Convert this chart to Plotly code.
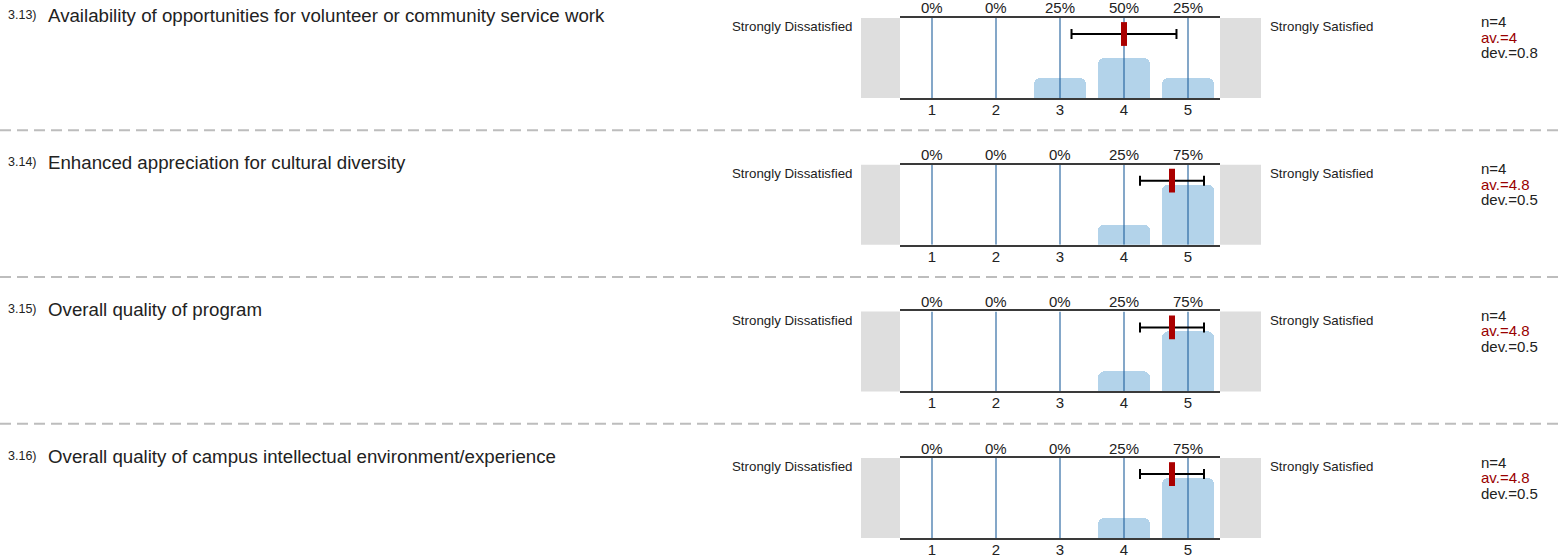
import plotly.graph_objects as go

# ---------------- data ----------------
question_ids = ["3.13)", "3.14)", "3.15)", "3.16)"]
questions = [
    "Availability of opportunities for volunteer or community service work",
    "Enhanced appreciation for cultural diversity",
    "Overall quality of program",
    "Overall quality of campus intellectual environment/experience",
]
scale_points = [1, 2, 3, 4, 5]
pct_3_13 = [0, 0, 25, 50, 25]
pct_3_14 = [0, 0, 0, 25, 75]
pct_3_15 = [0, 0, 0, 25, 75]
pct_3_16 = [0, 0, 0, 25, 75]
percentages = [pct_3_13, pct_3_14, pct_3_15, pct_3_16]
n_resp = [4, 4, 4, 4]
averages = [4.0, 4.75, 4.75, 4.75]
avg_labels = ["4", "4.8", "4.8", "4.8"]
deviations = [0.82, 0.5, 0.5, 0.5]
dev_labels = ["0.8", "0.5", "0.5", "0.5"]
left_label = "Strongly Dissatisfied"
right_label = "Strongly Satisfied"

# ---------------- layout helpers ----------------
W, H = 1559, 557
FONT = "Liberation Sans, Arial, sans-serif"
ROW_STEP = 146.7
PANEL_TOP0 = 18
PANEL_H = 80
PX_L, PX_R = 900, 1220


def fx(px):
    return px / W


def fy(py):
    return 1 - py / H


fig = go.Figure()
shapes = []
annotations = []
layout_axes = {}

for i in range(4):
    top = PANEL_TOP0 + ROW_STEP * i
    bot = top + PANEL_H
    sfx = "" if i == 0 else str(i + 1)
    xa, ya = "x" + sfx, "y" + sfx

    layout_axes["xaxis" + sfx] = dict(
        domain=[fx(PX_L), fx(PX_R)], range=[0.5, 5.5], anchor=ya,
        tickvals=scale_points, ticktext=[str(v) for v in scale_points],
        showline=True, mirror=True, linecolor="#3a3a3a", linewidth=2,
        showgrid=False, zeroline=False, ticks="", ticklabelstandoff=-3,
        tickfont=dict(family=FONT, size=15, color="#222222"),
        fixedrange=True,
    )
    layout_axes["yaxis" + sfx] = dict(
        domain=[fy(bot), fy(top)], range=[0, 100], anchor=xa,
        visible=False, fixedrange=True,
    )

    fig.add_trace(go.Bar(
        x=scale_points, y=percentages[i], width=0.8,
        marker=dict(color="#b3d3ea", cornerradius=6, line=dict(width=0)),
        xaxis=xa, yaxis=ya, hoverinfo="skip", showlegend=False,
    ))
    vx, vy = [], []
    for s in scale_points:
        vx += [s, s, None]
        vy += [0, 100, None]
    fig.add_trace(go.Scatter(
        x=vx, y=vy, mode="lines", line=dict(color="#1f5f9c", width=1.1),
        xaxis=xa, yaxis=ya, hoverinfo="skip", showlegend=False,
    ))
    fig.add_trace(go.Scatter(
        x=[averages[i]], y=[80], mode="markers",
        marker=dict(symbol="line-ns", size=17,
                    line=dict(color="#aa0000", width=6)),
        error_x=dict(type="data", array=[deviations[i]], color="#000000",
                     thickness=2, width=5),
        xaxis=xa, yaxis=ya, hoverinfo="skip", showlegend=False,
    ))

    # grey end boxes
    shapes.append(dict(type="rect", xref="paper", yref="paper",
                       x0=fx(861), x1=fx(PX_L), y0=fy(bot), y1=fy(top),
                       fillcolor="#dedede", line=dict(width=0), layer="below"))
    shapes.append(dict(type="rect", xref="paper", yref="paper",
                       x0=fx(PX_R), x1=fx(1261), y0=fy(bot), y1=fy(top),
                       fillcolor="#dedede", line=dict(width=0), layer="below"))

    # percentage labels above each scale point
    for s, p in zip(scale_points, percentages[i]):
        annotations.append(dict(
            x=s, y=1, xref=xa, yref=ya + " domain", yanchor="middle",
            yshift=10, text=f"{p}%", showarrow=False,
            font=dict(family=FONT, size=15, color="#222222")))

    # question label
    annotations.append(dict(
        x=fx(6), y=fy(top - 2.5), xref="paper", yref="paper",
        xanchor="left", yanchor="middle", text=question_ids[i],
        showarrow=False, font=dict(family=FONT, size=12.5, color="#222222")))
    annotations.append(dict(
        x=fx(46), y=fy(top - 2), xref="paper", yref="paper",
        xanchor="left", yanchor="middle", text=questions[i],
        showarrow=False, font=dict(family=FONT, size=18.7, color="#222222")))

    # end labels
    annotations.append(dict(
        x=fx(854), y=fy(top + 8.6), xref="paper", yref="paper",
        xanchor="right", yanchor="middle", text=left_label,
        showarrow=False, font=dict(family=FONT, size=13.3, color="#222222")))
    annotations.append(dict(
        x=fx(1268), y=fy(top + 8.6), xref="paper", yref="paper",
        xanchor="left", yanchor="middle", text=right_label,
        showarrow=False, font=dict(family=FONT, size=13.3, color="#222222")))

    # stats
    stats = [(f"n={n_resp[i]}", "#222222", 4),
             (f"av.={avg_labels[i]}", "#990000", 19.5),
             (f"dev.={dev_labels[i]}", "#222222", 35)]
    for txt, col, off in stats:
        annotations.append(dict(
            x=fx(1479), y=fy(top + off), xref="paper", yref="paper",
            xanchor="left", yanchor="middle", text=txt, showarrow=False,
            font=dict(family=FONT, size=15, color=col)))

    # dashed separator
    if i < 3:
        sep = top + 112.3
        shapes.append(dict(type="line", xref="paper", yref="paper",
                           x0=0, x1=1, y0=fy(sep), y1=fy(sep),
                           line=dict(color="#bdbdbd", width=2, dash="11px,6px")))

fig.update_layout(
    width=W, height=H, margin=dict(l=0, r=0, t=0, b=0),
    paper_bgcolor="white", plot_bgcolor="rgba(0,0,0,0)",
    showlegend=False, shapes=shapes, annotations=annotations,
    bargap=0, **layout_axes,
)

fig.write_html(
    "out.html", config={"displayModeBar": False},
    post_script="document.body.style.margin='0px';document.body.style.overflow='hidden';",
)
